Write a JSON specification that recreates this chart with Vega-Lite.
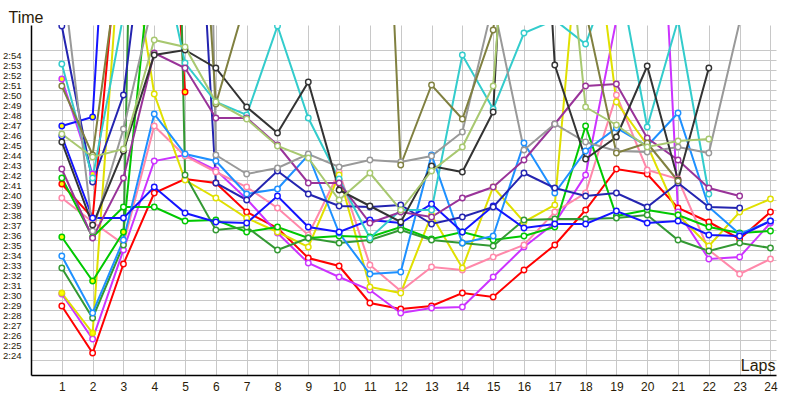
{
"$schema":"https://vega.github.io/schema/vega-lite/v6.json",
"width":745,"height":350,
"autosize":{"type":"none"},
"padding":{"left":31,"top":25,"right":24,"bottom":25},
"background":"white",
"config":{"view":{"stroke":null},"font":"Liberation Sans"},
"data":{"values":[
{"d":"A","lap":1,"t":148.9},{"d":"A","lap":2,"t":144.2},{"d":"A","lap":3,"t":153.1},{"d":"A","lap":4,"t":160.2},{"d":"A","lap":5,"t":161.6},{"d":"A","lap":6,"t":161.2},{"d":"A","lap":7,"t":158.3},{"d":"A","lap":8,"t":156.7},{"d":"A","lap":9,"t":153.7},{"d":"A","lap":10,"t":152.9},{"d":"A","lap":11,"t":149.2},{"d":"A","lap":12,"t":148.6},{"d":"A","lap":13,"t":148.9},{"d":"A","lap":14,"t":150.2},{"d":"A","lap":15,"t":149.8},{"d":"A","lap":16,"t":152.5},{"d":"A","lap":17,"t":155.0},{"d":"A","lap":18,"t":158.5},{"d":"A","lap":19,"t":162.6},{"d":"A","lap":20,"t":162.1},{"d":"A","lap":21,"t":158.7},{"d":"A","lap":22,"t":157.3},{"d":"A","lap":23,"t":155.6},{"d":"A","lap":24,"t":158.3},
{"d":"B","lap":1,"t":161.1,"f":1},{"d":"B","lap":2,"t":157.7,"f":1},{"d":"B","lap":3,"t":191},{"d":"B","lap":4,"t":218},{"d":"B","lap":5,"t":170.3,"f":1},
{"d":"C","lap":1,"t":150.1},{"d":"C","lap":2,"t":145.6},{"d":"C","lap":3,"t":154.5},{"d":"C","lap":4,"t":163.4},{"d":"C","lap":5,"t":164.0},{"d":"C","lap":6,"t":162.5},{"d":"C","lap":7,"t":159.6},{"d":"C","lap":8,"t":156.2},{"d":"C","lap":9,"t":153.2},{"d":"C","lap":10,"t":151.8},{"d":"C","lap":11,"t":150.5},{"d":"C","lap":12,"t":148.2},{"d":"C","lap":13,"t":148.7},{"d":"C","lap":14,"t":148.8},{"d":"C","lap":15,"t":151.8},{"d":"C","lap":16,"t":154.8},{"d":"C","lap":17,"t":157.2},{"d":"C","lap":18,"t":162.0},{"d":"C","lap":19,"t":177.5},{"d":"C","lap":20,"t":219},{"d":"C","lap":21,"t":158.3},{"d":"C","lap":22,"t":153.6},{"d":"C","lap":23,"t":153.8},{"d":"C","lap":24,"t":157.2},
{"d":"D","lap":1,"t":171.6,"f":1},{"d":"D","lap":2,"t":162.1,"f":1},
{"d":"E","lap":1,"t":159.7},{"d":"E","lap":2,"t":157.3},{"d":"E","lap":3,"t":155.1},{"d":"E","lap":4,"t":166.9},{"d":"E","lap":5,"t":163.9},{"d":"E","lap":6,"t":162.3},{"d":"E","lap":7,"t":160.8},{"d":"E","lap":8,"t":158.7},{"d":"E","lap":9,"t":156.0},{"d":"E","lap":10,"t":162.3},{"d":"E","lap":11,"t":153.0},{"d":"E","lap":12,"t":150.4},{"d":"E","lap":13,"t":152.8},{"d":"E","lap":14,"t":152.5},{"d":"E","lap":15,"t":153.8},{"d":"E","lap":16,"t":155.0},{"d":"E","lap":17,"t":158.3},{"d":"E","lap":18,"t":160.2},{"d":"E","lap":19,"t":170.0},{"d":"E","lap":20,"t":162.5},{"d":"E","lap":21,"t":161.6},{"d":"E","lap":22,"t":154.5},{"d":"E","lap":23,"t":152.1},{"d":"E","lap":24,"t":153.6},
{"d":"F","lap":1,"t":150.2,"f":1},{"d":"F","lap":2,"t":146.2,"f":1},{"d":"F","lap":3,"t":190},{"d":"F","lap":4,"t":170.1},{"d":"F","lap":5,"t":161.5},{"d":"F","lap":6,"t":159.7},{"d":"F","lap":7,"t":157.7},{"d":"F","lap":8,"t":156.3},{"d":"F","lap":9,"t":154.8},{"d":"F","lap":10,"t":162.0},{"d":"F","lap":11,"t":150.8},{"d":"F","lap":12,"t":150.2},{"d":"F","lap":13,"t":158.0},{"d":"F","lap":14,"t":152.7},{"d":"F","lap":15,"t":160.8},{"d":"F","lap":16,"t":157.3},{"d":"F","lap":17,"t":159.0},{"d":"F","lap":18,"t":194},{"d":"F","lap":19,"t":169.3},{"d":"F","lap":20,"t":165.0},{"d":"F","lap":21,"t":158.0},{"d":"F","lap":22,"t":154.9},{"d":"F","lap":23,"t":158.3},{"d":"F","lap":24,"t":159.6},
{"d":"G","lap":1,"t":161.7},{"d":"G","lap":2,"t":155.8},{"d":"G","lap":3,"t":158.8},{"d":"G","lap":4,"t":158.8},{"d":"G","lap":5,"t":157.4},{"d":"G","lap":6,"t":157.5},{"d":"G","lap":7,"t":156.3},{"d":"G","lap":8,"t":156.8},{"d":"G","lap":9,"t":155.7},{"d":"G","lap":10,"t":155.9},{"d":"G","lap":11,"t":155.8},{"d":"G","lap":12,"t":156.8},{"d":"G","lap":13,"t":155.6},{"d":"G","lap":14,"t":156.3},{"d":"G","lap":15,"t":155.5},{"d":"G","lap":16,"t":155.9},{"d":"G","lap":17,"t":156.8},{"d":"G","lap":18,"t":166.9},{"d":"G","lap":19,"t":157.9},{"d":"G","lap":20,"t":158.5},{"d":"G","lap":21,"t":158.0},{"d":"G","lap":22,"t":156.8},{"d":"G","lap":23,"t":156.2},{"d":"G","lap":24,"t":156.4},
{"d":"H","lap":1,"t":155.8,"f":1},{"d":"H","lap":2,"t":151.4,"f":1},{"d":"H","lap":3,"t":156.3,"f":1},{"d":"H","lap":4,"t":186.9},
{"d":"I","lap":1,"t":152.7},{"d":"I","lap":2,"t":147.7},{"d":"I","lap":3,"t":155.0},{"d":"I","lap":4,"t":306},{"d":"I","lap":5,"t":162.0},{"d":"I","lap":6,"t":156.5},{"d":"I","lap":7,"t":156.8},{"d":"I","lap":8,"t":154.5},{"d":"I","lap":9,"t":155.7},{"d":"I","lap":10,"t":155.2},{"d":"I","lap":11,"t":155.5},{"d":"I","lap":12,"t":156.5},{"d":"I","lap":13,"t":155.5},{"d":"I","lap":14,"t":155.2},{"d":"I","lap":15,"t":154.9},{"d":"I","lap":16,"t":157.5},{"d":"I","lap":17,"t":157.6},{"d":"I","lap":18,"t":157.6},{"d":"I","lap":19,"t":157.7},{"d":"I","lap":20,"t":158.0},{"d":"I","lap":21,"t":155.5},{"d":"I","lap":22,"t":154.4},{"d":"I","lap":23,"t":155.2},{"d":"I","lap":24,"t":154.7},
{"d":"J","lap":1,"t":153.9},{"d":"J","lap":2,"t":148.2},{"d":"J","lap":3,"t":155.5},{"d":"J","lap":4,"t":168.1},{"d":"J","lap":5,"t":164.1},{"d":"J","lap":6,"t":163.4},{"d":"J","lap":7,"t":160.1},{"d":"J","lap":8,"t":160.6},{"d":"J","lap":9,"t":164.0},{"d":"J","lap":10,"t":156.2},{"d":"J","lap":11,"t":152.1},{"d":"J","lap":12,"t":152.3},{"d":"J","lap":13,"t":164.0},{"d":"J","lap":14,"t":155.2},{"d":"J","lap":15,"t":155.9},{"d":"J","lap":16,"t":165.2},{"d":"J","lap":17,"t":160.2},{"d":"J","lap":18,"t":164.4},{"d":"J","lap":19,"t":166.7},{"d":"J","lap":20,"t":164.9},{"d":"J","lap":21,"t":168.2},{"d":"J","lap":22,"t":158.8},{"d":"J","lap":23,"t":156.1},{"d":"J","lap":24,"t":157.4},
{"d":"K","lap":1,"t":165.9},{"d":"K","lap":2,"t":157.7},{"d":"K","lap":3,"t":157.7},{"d":"K","lap":4,"t":160.8},{"d":"K","lap":5,"t":158.2},{"d":"K","lap":6,"t":157.3},{"d":"K","lap":7,"t":157.2},{"d":"K","lap":8,"t":159.9},{"d":"K","lap":9,"t":156.8},{"d":"K","lap":10,"t":156.3},{"d":"K","lap":11,"t":157.5},{"d":"K","lap":12,"t":157.2},{"d":"K","lap":13,"t":159.1},{"d":"K","lap":14,"t":156.3},{"d":"K","lap":15,"t":158.9},{"d":"K","lap":16,"t":156.7},{"d":"K","lap":17,"t":157.1},{"d":"K","lap":18,"t":157.1},{"d":"K","lap":19,"t":158.4},{"d":"K","lap":20,"t":157.2},{"d":"K","lap":21,"t":157.4},{"d":"K","lap":22,"t":156.0},{"d":"K","lap":23,"t":155.9},{"d":"K","lap":24,"t":157.4},
{"d":"L","lap":1,"t":166.9,"f":1},{"d":"L","lap":2,"t":167.8,"f":1},{"d":"L","lap":3,"t":218},
{"d":"M","lap":1,"t":176.9},{"d":"M","lap":2,"t":161.3},{"d":"M","lap":3,"t":170.0},{"d":"M","lap":4,"t":194.8},{"d":"M","lap":5,"t":215.3},{"d":"M","lap":6,"t":161.2},{"d":"M","lap":7,"t":159.5},{"d":"M","lap":8,"t":162.4},{"d":"M","lap":9,"t":160.1},{"d":"M","lap":10,"t":158.9},{"d":"M","lap":11,"t":158.8},{"d":"M","lap":12,"t":159.0},{"d":"M","lap":13,"t":157.1},{"d":"M","lap":14,"t":157.8},{"d":"M","lap":15,"t":158.8},{"d":"M","lap":16,"t":162.2},{"d":"M","lap":17,"t":160.7},{"d":"M","lap":18,"t":159.9},{"d":"M","lap":19,"t":160.2},{"d":"M","lap":20,"t":158.8},{"d":"M","lap":21,"t":161.2},{"d":"M","lap":22,"t":158.8},{"d":"M","lap":23,"t":158.7},
{"d":"N","lap":1,"t":173.1},{"d":"N","lap":2,"t":161.7},{"d":"N","lap":3,"t":178},{"d":"N","lap":4,"t":187.5},{"d":"N","lap":5,"t":173.2},{"d":"N","lap":6,"t":169.3},{"d":"N","lap":7,"t":168.0},{"d":"N","lap":8,"t":176.9},{"d":"N","lap":9,"t":167.7},{"d":"N","lap":10,"t":161.6},{"d":"N","lap":11,"t":155.7},{"d":"N","lap":12,"t":158.5},{"d":"N","lap":13,"t":158.5},{"d":"N","lap":14,"t":174.0},{"d":"N","lap":15,"t":168.6},{"d":"N","lap":16,"t":176.2},{"d":"N","lap":17,"t":177.5},{"d":"N","lap":18,"t":175.1},{"d":"N","lap":19,"t":183.5},{"d":"N","lap":20,"t":166.8},{"d":"N","lap":21,"t":177.5},{"d":"N","lap":22,"t":160.1},
{"d":"O","lap":1,"t":162.6},{"d":"O","lap":2,"t":155.7},{"d":"O","lap":3,"t":161.7},{"d":"O","lap":4,"t":174.2},{"d":"O","lap":5,"t":172.7},{"d":"O","lap":6,"t":167.7},{"d":"O","lap":7,"t":167.7},{"d":"O","lap":8,"t":165.0},{"d":"O","lap":9,"t":161.2},{"d":"O","lap":10,"t":161.2},{"d":"O","lap":11,"t":157.2},{"d":"O","lap":12,"t":158.3},{"d":"O","lap":13,"t":157.8},{"d":"O","lap":14,"t":159.7},{"d":"O","lap":15,"t":160.8},{"d":"O","lap":16,"t":163.5},{"d":"O","lap":17,"t":167.1},{"d":"O","lap":18,"t":170.9},{"d":"O","lap":19,"t":171.1},{"d":"O","lap":20,"t":165.7},{"d":"O","lap":21,"t":163.5},{"d":"O","lap":22,"t":160.7},{"d":"O","lap":23,"t":159.9},
{"d":"P","lap":1,"t":182.8},{"d":"P","lap":2,"t":156.4},{"d":"P","lap":3,"t":166.6},{"d":"P","lap":4,"t":179.8},{"d":"P","lap":5,"t":320},{"d":"P","lap":6,"t":164.0},{"d":"P","lap":7,"t":162.1},{"d":"P","lap":8,"t":162.7},{"d":"P","lap":9,"t":164.1},{"d":"P","lap":10,"t":162.8},{"d":"P","lap":11,"t":163.5},{"d":"P","lap":12,"t":163.3},{"d":"P","lap":13,"t":163.9},{"d":"P","lap":14,"t":166.3},{"d":"P","lap":15,"t":179.2},{"d":"P","lap":16,"t":164.5},{"d":"P","lap":17,"t":167.1},{"d":"P","lap":18,"t":165.3},{"d":"P","lap":19,"t":164.4},{"d":"P","lap":20,"t":164.3},{"d":"P","lap":21,"t":164.8},{"d":"P","lap":22,"t":164.2},{"d":"P","lap":23,"t":177.3},
{"d":"Q","lap":1,"t":165.3},{"d":"Q","lap":2,"t":157.0},{"d":"Q","lap":3,"t":164.4},{"d":"Q","lap":4,"t":174.0},{"d":"Q","lap":5,"t":174.5},{"d":"Q","lap":6,"t":172.7},{"d":"Q","lap":7,"t":168.8},{"d":"Q","lap":8,"t":166.2},{"d":"Q","lap":9,"t":171.3},{"d":"Q","lap":10,"t":160.5},{"d":"Q","lap":11,"t":158.9},{"d":"Q","lap":12,"t":157.3},{"d":"Q","lap":13,"t":162.9},{"d":"Q","lap":14,"t":162.3},{"d":"Q","lap":15,"t":168.3},{"d":"Q","lap":16,"t":226},{"d":"Q","lap":17,"t":173.0},{"d":"Q","lap":18,"t":163.6},{"d":"Q","lap":19,"t":165.8},{"d":"Q","lap":20,"t":172.9},{"d":"Q","lap":21,"t":161.5},{"d":"Q","lap":22,"t":172.7},
{"d":"R","lap":1,"t":170.9},{"d":"R","lap":2,"t":164.0},{"d":"R","lap":3,"t":186.6},{"d":"R","lap":4,"t":210},{"d":"R","lap":5,"t":217.5},{"d":"R","lap":6,"t":169.1},{"d":"R","lap":7,"t":179.7},{"d":"R","lap":8,"t":195},{"d":"R","lap":9,"t":200},{"d":"R","lap":10,"t":210},{"d":"R","lap":11,"t":231},{"d":"R","lap":12,"t":163.0},{"d":"R","lap":13,"t":171.0},{"d":"R","lap":14,"t":167.6},{"d":"R","lap":15,"t":176.5},{"d":"R","lap":16,"t":200},{"d":"R","lap":17,"t":195},{"d":"R","lap":18,"t":178.4},{"d":"R","lap":19,"t":164.2},{"d":"R","lap":20,"t":165.2},{"d":"R","lap":21,"t":161.4},
{"d":"S","lap":1,"t":166.1},{"d":"S","lap":2,"t":163.8},{"d":"S","lap":3,"t":164.6},{"d":"S","lap":4,"t":175.5},{"d":"S","lap":5,"t":174.8},{"d":"S","lap":6,"t":169.3},{"d":"S","lap":7,"t":167.6},{"d":"S","lap":8,"t":164.9},{"d":"S","lap":9,"t":163.7},{"d":"S","lap":10,"t":159.5},{"d":"S","lap":11,"t":162.2},{"d":"S","lap":12,"t":158.5},{"d":"S","lap":13,"t":162.4},{"d":"S","lap":14,"t":164.8},{"d":"S","lap":15,"t":170.9},{"d":"S","lap":16,"t":210},{"d":"S","lap":17,"t":199},{"d":"S","lap":18,"t":168.8},{"d":"S","lap":19,"t":167.0},{"d":"S","lap":20,"t":164.8},{"d":"S","lap":21,"t":165.4},{"d":"S","lap":22,"t":165.6}
]},
"encoding":{
"x":{"field":"lap","type":"quantitative","scale":{"domain":[0,24.18],"nice":false,"zero":false},
 "axis":{"values":[1,2,3,4,5,6,7,8,9,10,11,12,13,14,15,16,17,18,19,20,21,22,23,24],"grid":true,"gridColor":"#c8c8c8","gridWidth":1,"ticks":false,"domainColor":"#000000","domainWidth":1.5,"labelFont":"Liberation Sans","labelFontSize":12,"labelColor":"#2a1c08","labelPadding":6,"labelFlush":false,"labelOverlap":false,
 "title":"Laps","titleX":744,"titleY":-5,"titleAlign":"right","titleBaseline":"alphabetic","titleFont":"Liberation Sans","titleFontSize":16,"titleFontWeight":"normal","titleColor":"#2a1c08"}},
"y":{"field":"t","type":"quantitative","scale":{"domain":[142,177],"nice":false,"zero":false},
 "axis":{"values":[143.5,144.5,145.5,146.5,147.5,148.5,149.5,150.5,151.5,152.5,153.5,154.5,155.5,156.5,157.5,158.5,159.5,160.5,161.5,162.5,163.5,164.5,165.5,166.5,167.5,168.5,169.5,170.5,171.5,172.5,173.5,174.5],
 "grid":true,"gridColor":"#c8c8c8","gridWidth":1,"ticks":false,"domainColor":"#000000","domainWidth":1.5,
 "labelExpr":"datum.value > 174 ? '' : floor((datum.value+0.5)/60) + ':' + (((datum.value+0.5)%60) < 10 ? '0' : '') + ((datum.value+0.5)%60)",
 "labelOffset":-5,"labelOverlap":false,"labelFont":"Liberation Sans","labelFontSize":9.5,"labelColor":"#2a1c08","labelPadding":10,"labelFlush":false,
 "title":"Time","titleAngle":0,"titleX":-23,"titleY":-3,"titleAlign":"left","titleBaseline":"alphabetic","titleFont":"Liberation Sans","titleFontSize":16,"titleFontWeight":"normal","titleColor":"#2a1c08"}}
},
"layer":[
{"mark":{"type":"line","strokeWidth":2,"clip":true},
 "encoding":{"stroke":{"field":"d","type":"nominal","legend":null,
  "scale":{"domain":["A","B","C","D","E","F","G","H","I","J","K","L","M","N","O","P","Q","R","S"],
  "range":["#ff0000","#ff0000","#cc33ff","#cc33ff","#ff88aa","#e0e000","#00c800","#00c800","#339933","#1e90ff","#1414ff","#1414ff","#2424b0","#33cccc","#993399","#999999","#333333","#808040","#a8c870"]}}}},
{"mark":{"type":"point","shape":"circle","filled":true,"size":30,"strokeWidth":1.4,"opacity":1,"clip":true},
 "encoding":{"stroke":{"field":"d","type":"nominal","legend":null},
  "fill":{"condition":{"test":"datum.f === 1","value":"#ffff00"},"value":"#ffffff"}}},
{"data":{"values":[{}]},"mark":{"type":"point","shape":"triangle-up","filled":true,"color":"#000000","size":50,"opacity":1,"clip":false},
 "encoding":{"x":{"datum":0},"y":{"datum":176.5}}},
{"data":{"values":[{}]},"mark":{"type":"point","shape":"triangle-right","filled":true,"color":"#000000","size":50,"opacity":1,"clip":false},
 "encoding":{"x":{"datum":24.12},"y":{"datum":142}}},
{"data":{"values":[{}]},"mark":{"type":"point","shape":"square","filled":true,"color":"#000000","size":12,"opacity":1,"clip":false},
 "encoding":{"x":{"datum":0},"y":{"datum":142}}}
]
}
